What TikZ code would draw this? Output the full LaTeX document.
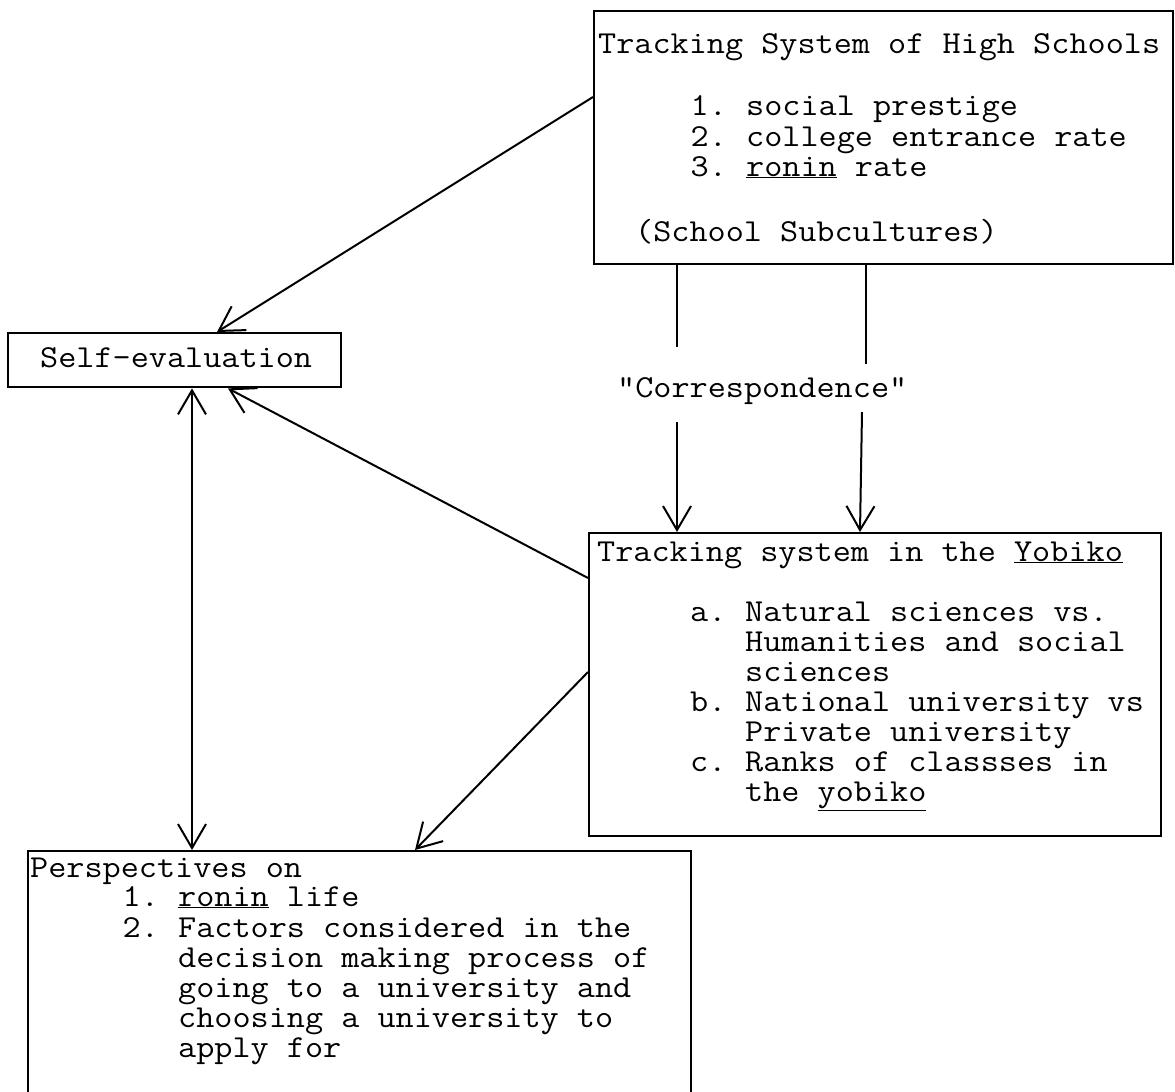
\documentclass[tikz,border=0pt]{standalone}
\usepackage{fontspec}
\setmonofont{Latin Modern Mono}[FakeStretch=1.1]
\usetikzlibrary{arrows.meta}
\begin{document}
\begin{tikzpicture}[x=1pt,y=-1pt,
  box/.style={draw,line width=2.4pt,rectangle,inner sep=0pt,anchor=north west},
  txt/.style={anchor=base west,inner sep=0pt,font=\ttfamily\fontsize{32}{30.5}\selectfont},
  arr/.style={line width=2pt,-{Straight Barb[length=24pt,width=28pt,line width=2pt]}},
  dbl/.style={line width=2pt,{Straight Barb[length=24pt,width=28pt,line width=2pt]}-{Straight Barb[length=24pt,width=28pt,line width=2pt]}},
  ln/.style={line width=2pt}]
\useasboundingbox (0,0) rectangle (1175,1092);
\clip (0,0) rectangle (1175,1092);
% boxes
\node[box,minimum width=579pt,minimum height=253pt] (hs) at (593,10) {};
\node[box,minimum width=333pt,minimum height=54pt] (se) at (7,332) {};
\node[box,minimum width=572pt,minimum height=303pt] (yb) at (588,532) {};
\node[box,minimum width=663pt,minimum height=300pt] (pp) at (27,850) {};
% texts: high schools
\node[txt] (hs0) at (598,53) {Tracking System of High Schools};
\node[txt] (hs1n) at (690.5,115) {1.};
\node[txt] (hs1) at (746,115) {social prestige};
\node[txt] (hs2n) at (690.5,146) {2.};
\node[txt] (hs2) at (746,146) {college entrance rate};
\node[txt] (hs3n) at (690.5,176) {3.};
\node[txt] (hs3) at (746,176) {\underline{ronin} rate};
\node[txt] (hs4) at (635,241) {(School Subcultures)};
% self evaluation
\node[txt] (se0) at (40,367) {Self-evaluation};
% correspondence
\node[txt] (cor) at (617,397) {"Correspondence"};
% yobiko
\node[txt] (yb0) at (597,561) {Tracking system in the \underline{Yobiko}};
\node[txt] (yban) at (690,621) {a.};
\node[txt] (yba1) at (745,621) {Natural sciences vs.};
\node[txt] (yba2) at (745,651) {Humanities and social};
\node[txt] (yba3) at (745,681) {sciences};
\node[txt] (ybbn) at (690,711) {b.};
\node[txt] (ybb1) at (745,711) {National university vs};
\node[txt] (ybb2) at (745,741) {Private university};
\node[txt] (ybcn) at (690,771) {c.};
\node[txt] (ybc1) at (745,771) {Ranks of classses in};
\node[txt] (ybc2) at (745,801) {the \underline{yobiko}};
% perspectives
\node[txt] (pp0) at (30,877) {Perspectives on};
\node[txt] (pp1n) at (122.5,906) {1.};
\node[txt] (pp1) at (178,906) {\underline{ronin} life};
\node[txt] (pp2n) at (122.5,937) {2.};
\node[txt] (pp2) at (178,937) {Factors considered in the};
\node[txt] (pp3) at (178,967) {decision making process of};
\node[txt] (pp4) at (178,997) {going to a university and};
\node[txt] (pp5) at (178,1027) {choosing a university to};
\node[txt] (pp6) at (178,1057) {apply for};
% correspondence line ends
\coordinate (la) at (677,347);
\coordinate (lb) at (677,422);
\coordinate (ra) at (866,364);
\coordinate (rb) at (862,412);
% connectors
\draw[arr] (hs.west |- 0,97) -- (se.north -| 217,0);
\draw[arr] (yb.west |- 0,578) -- (se.south -| 228,0);
\draw[arr] (yb.west |- 0,672) -- (pp.north -| 415,0);
\draw[dbl] (se.south -| 192,0) -- (pp.north -| 192,0);
\draw[ln] (hs.south -| la) -- (la);
\draw[arr] (lb) -- (yb.north -| lb);
\draw[ln] (hs.south -| ra) -- (ra);
\draw[arr] (rb) -- (yb.north -| 860,0);
\end{tikzpicture}
\end{document}
